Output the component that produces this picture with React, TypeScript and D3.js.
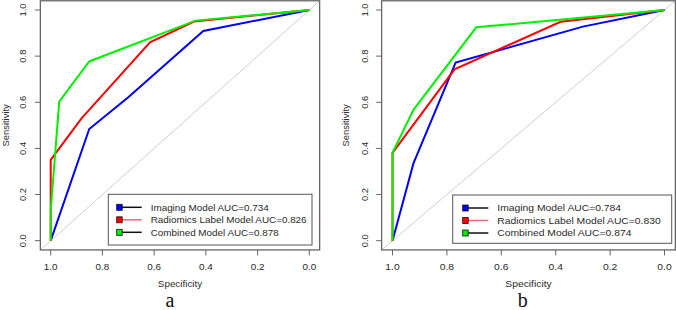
import React from "react";
import * as d3 from "d3";

// ---------- data ----------
const TICKS = [1.0, 0.8, 0.6, 0.4, 0.2, 0.0];
const TICK_LABELS = ["1.0", "0.8", "0.6", "0.4", "0.2", "0.0"];
const SERIES = ["Imaging Model", "Radiomics Label Model", "Combined Model"];
const COLORS = ["#0000ff", "#ff0000", "#00f000"];
const LEGEND_LINE = ["#111111", "#e8697a", "#111111"];

const aucA = ["0.734", "0.826", "0.878"];
const aucB = ["0.784", "0.830", "0.874"];

// panel a
const imagingSpecA = [1.0, 0.851, 0.70, 0.41, 0.0];
const imagingSensA = [0.0, 0.484, 0.622, 0.909, 1.0];
const radiomicsSpecA = [1.0, 1.0, 0.88, 0.616, 0.446, 0.0];
const radiomicsSensA = [0.0, 0.35, 0.531, 0.86, 0.95, 1.0];
const combinedSpecA = [1.0, 1.0, 0.967, 0.851, 0.44, 0.0];
const combinedSensA = [0.0, 0.13, 0.603, 0.777, 0.954, 1.0];

// panel b
const imagingSpecB = [1.0, 0.923, 0.768, 0.30, 0.0];
const imagingSensB = [0.0, 0.335, 0.772, 0.928, 1.0];
const radiomicsSpecB = [1.0, 1.0, 0.772, 0.382, 0.0];
const radiomicsSensB = [0.0, 0.381, 0.743, 0.949, 1.0];
const combinedSpecB = [1.0, 1.0, 0.923, 0.692, 0.0];
const combinedSensB = [0.0, 0.381, 0.567, 0.925, 1.0];

const zip = (a: number[], b: number[]) => a.map((v, i) => [v, b[i]] as [number, number]);

const FONT = "'Liberation Sans', Arial, sans-serif";
const TXT = "#2a2a2a";

type Layout = {
  xAt1: number; xAt0: number; yAt0: number; yAt1: number; sx: number;
  yLabX: number; titleX: number;
  lg: { x: number; y: number; w: number; h: number; sq: number; lineEnd: number; txt: number };
  cap: string; capX: number;
};

function Panel({ L, curves, aucs }: { L: Layout; curves: [number, number][][]; aucs: string[] }) {
  const x = d3.scaleLinear().domain([1, 0]).range([L.xAt1, L.xAt0]);
  const y = d3.scaleLinear().domain([0, 1]).range([L.yAt0, L.yAt1]);
  const bx0 = x(1.04), bx1 = x(-0.04), by0 = y(-0.04), by1 = y(1.04);
  const line = d3.line<[number, number]>().x((d) => x(d[0])).y((d) => y(d[1]));
  const clipId = "clip" + L.cap;
  const fs = 9.4;
  const rows = [13, 25.5, 38];
  return (
    <g>
      <defs>
        <clipPath id={clipId}>
          <rect x={bx0} y={by1} width={bx1 - bx0} height={by0 - by1} />
        </clipPath>
      </defs>
      <g clipPath={`url(#${clipId})`}>
        <path d={line([[1.04, -0.04], [-0.04, 1.04]]) || ""} stroke="#cfcfcf" strokeWidth={1} fill="none" />
        {curves.map((c, i) => (
          <path key={i} d={line(c) || ""} stroke={COLORS[i]} strokeWidth={2} fill="none" strokeLinejoin="miter" />
        ))}
      </g>
      <rect x={bx0} y={by1} width={bx1 - bx0} height={by0 - by1} fill="none" stroke="#666" strokeWidth={1.3} />
      {/* x axis */}
      {TICKS.map((t, i) => (
        <g key={"x" + i}>
          <line x1={x(t)} x2={x(t)} y1={by0} y2={by0 + 5.5} stroke="#666" strokeWidth={1} />
          <text transform={`translate(${x(t)},${270}) scale(${L.sx},1)`} textAnchor="middle" fontSize={fs} fontFamily={FONT} fill={TXT}>
            {TICK_LABELS[i]}
          </text>
        </g>
      ))}
      <text transform={`translate(${(bx0 + bx1) / 2},${286.5}) scale(${L.sx},1)`} textAnchor="middle" fontSize={fs} fontFamily={FONT} fill={TXT}>
        Specificity
      </text>
      {/* y axis */}
      {TICKS.map((t, i) => (
        <g key={"y" + i}>
          <line x1={bx0 - 5.5} x2={bx0} y1={y(t)} y2={y(t)} stroke="#666" strokeWidth={1} />
          <text transform={`translate(${L.yLabX},${y(t)}) rotate(-90)`} textAnchor="middle" fontSize={fs} fontFamily={FONT} fill={TXT}>
            {TICK_LABELS[i]}
          </text>
        </g>
      ))}
      <text transform={`translate(${L.titleX},${y(0.5)}) rotate(-90)`} textAnchor="middle" fontSize={fs} fontFamily={FONT} fill={TXT}>
        Sensitivity
      </text>
      {/* legend */}
      <rect x={L.lg.x} y={L.lg.y} width={L.lg.w} height={L.lg.h} fill="#fff" stroke="#555" strokeWidth={1} />
      {SERIES.map((s, i) => {
        const ry = L.lg.y + rows[i];
        return (
          <g key={"l" + i}>
            <line x1={L.lg.x + L.lg.sq + 5} x2={L.lg.x + L.lg.lineEnd} y1={ry} y2={ry} stroke={LEGEND_LINE[i]} strokeWidth={1.5} />
            <rect x={L.lg.x + L.lg.sq} y={ry - 3} width={5.5} height={6} fill={COLORS[i]} stroke="#111" strokeWidth={0.8} />
            <text transform={`translate(${L.lg.x + L.lg.txt},${ry + 3.4}) scale(${L.sx},1)`} fontSize={fs} fontFamily={FONT} fill={TXT}>
              {`${s} AUC=${aucs[i]}`}
            </text>
          </g>
        );
      })}
      <text x={L.capX} y={306.5} textAnchor="middle" fontSize={20} fontFamily="'Liberation Serif', 'Times New Roman', serif" fill="#111">
        {L.cap}
      </text>
    </g>
  );
}

const layoutA: Layout = {
  xAt1: 50.7, xAt0: 309.3, yAt0: 240.7, yAt1: 10, sx: 1.05,
  yLabX: 26, titleX: 9,
  lg: { x: 108.3, y: 194.3, w: 203.7, h: 50.7, sq: 8.4, lineEnd: 33.4, txt: 42.4 },
  cap: "a", capX: 170,
};
const layoutB: Layout = {
  xAt1: 392.5, xAt0: 664.5, yAt0: 240.7, yAt1: 10, sx: 1.1,
  yLabX: 367.5, titleX: 348.5,
  lg: { x: 452.7, y: 195, w: 219, h: 48.3, sq: 10, lineEnd: 35.6, txt: 44.6 },
  cap: "b", capX: 522.7,
};

export default function App() {
  const curvesA = [zip(imagingSpecA, imagingSensA), zip(radiomicsSpecA, radiomicsSensA), zip(combinedSpecA, combinedSensA)];
  const curvesB = [zip(imagingSpecB, imagingSensB), zip(radiomicsSpecB, radiomicsSensB), zip(combinedSpecB, combinedSensB)];
  return (
    <svg width={676} height={310} style={{ position: "absolute", left: 0, top: 0, background: "#fff" }}>
      <rect x={0} y={0} width={676} height={310} fill="#fff" />
      <Panel L={layoutA} curves={curvesA} aucs={aucA} />
      <Panel L={layoutB} curves={curvesB} aucs={aucB} />
    </svg>
  );
}
